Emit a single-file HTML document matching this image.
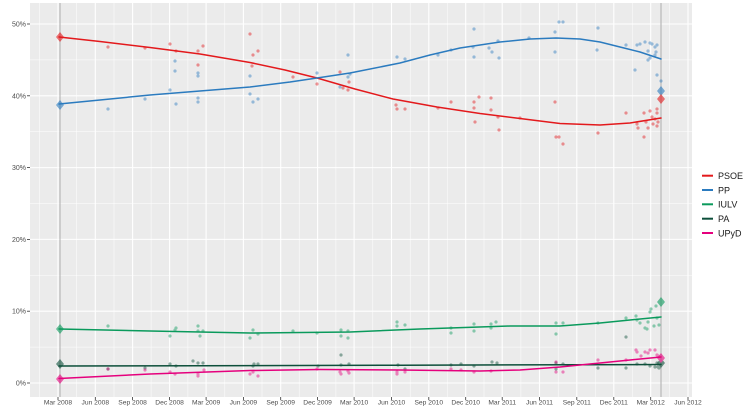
<!DOCTYPE html>
<html><head><meta charset="utf-8"><style>
html,body{margin:0;padding:0;background:#fff;}
svg{display:block;font-family:"Liberation Sans",Arial,sans-serif;}
</style></head><body>
<svg width="750" height="417" viewBox="0 0 750 417" xmlns="http://www.w3.org/2000/svg">
<rect x="0" y="0" width="750" height="417" fill="#ffffff"/>
<rect x="30" y="3" width="662" height="394" fill="#ebebeb"/>
<g stroke="#ffffff" stroke-width="0.5">
<line x1="30" x2="692" y1="347.1" y2="347.1"/><line x1="30" x2="692" y1="275.3" y2="275.3"/><line x1="30" x2="692" y1="203.5" y2="203.5"/><line x1="30" x2="692" y1="131.7" y2="131.7"/><line x1="30" x2="692" y1="59.9" y2="59.9"/>
<line x1="39.5" x2="39.5" y1="3" y2="397"/><line x1="76.7" x2="76.7" y1="3" y2="397"/><line x1="114" x2="114" y1="3" y2="397"/><line x1="151.1" x2="151.1" y1="3" y2="397"/><line x1="187.9" x2="187.9" y1="3" y2="397"/><line x1="224.8" x2="224.8" y1="3" y2="397"/><line x1="262" x2="262" y1="3" y2="397"/><line x1="299.2" x2="299.2" y1="3" y2="397"/><line x1="335.9" x2="335.9" y1="3" y2="397"/><line x1="372.8" x2="372.8" y1="3" y2="397"/><line x1="410.2" x2="410.2" y1="3" y2="397"/><line x1="447.3" x2="447.3" y1="3" y2="397"/><line x1="484" x2="484" y1="3" y2="397"/><line x1="520.9" x2="520.9" y1="3" y2="397"/><line x1="558.2" x2="558.2" y1="3" y2="397"/><line x1="595.3" x2="595.3" y1="3" y2="397"/><line x1="632.3" x2="632.3" y1="3" y2="397"/><line x1="669.4" x2="669.4" y1="3" y2="397"/>
</g>
<g stroke="#ffffff" stroke-width="1.07">
<line x1="30" x2="692" y1="383" y2="383"/><line x1="30" x2="692" y1="311.2" y2="311.2"/><line x1="30" x2="692" y1="239.4" y2="239.4"/><line x1="30" x2="692" y1="167.6" y2="167.6"/><line x1="30" x2="692" y1="95.8" y2="95.8"/><line x1="30" x2="692" y1="24" y2="24"/>
<line x1="58" x2="58" y1="3" y2="397"/><line x1="95.3" x2="95.3" y1="3" y2="397"/><line x1="132.6" x2="132.6" y1="3" y2="397"/><line x1="169.6" x2="169.6" y1="3" y2="397"/><line x1="206.1" x2="206.1" y1="3" y2="397"/><line x1="243.4" x2="243.4" y1="3" y2="397"/><line x1="280.7" x2="280.7" y1="3" y2="397"/><line x1="317.6" x2="317.6" y1="3" y2="397"/><line x1="354.1" x2="354.1" y1="3" y2="397"/><line x1="391.5" x2="391.5" y1="3" y2="397"/><line x1="428.8" x2="428.8" y1="3" y2="397"/><line x1="465.7" x2="465.7" y1="3" y2="397"/><line x1="502.2" x2="502.2" y1="3" y2="397"/><line x1="539.5" x2="539.5" y1="3" y2="397"/><line x1="576.8" x2="576.8" y1="3" y2="397"/><line x1="613.8" x2="613.8" y1="3" y2="397"/><line x1="650.7" x2="650.7" y1="3" y2="397"/><line x1="688" x2="688" y1="3" y2="397"/>
</g>
<!-- election lines -->
<line x1="60" x2="60" y1="3" y2="397" stroke="#b8b8b8" stroke-width="1.2"/>
<line x1="661" x2="661" y1="3" y2="397" stroke="#b8b8b8" stroke-width="1.2"/>

<!-- points PSOE -->
<g fill="#e3191c" opacity="0.45">
<circle cx="108" cy="47" r="1.6"/><circle cx="145" cy="48" r="1.6"/><circle cx="170" cy="44" r="1.6"/><circle cx="176" cy="51" r="1.6"/><circle cx="198" cy="51" r="1.6"/><circle cx="198" cy="65" r="1.6"/><circle cx="203" cy="46" r="1.6"/><circle cx="250" cy="34" r="1.6"/><circle cx="253" cy="55" r="1.6"/><circle cx="258" cy="51" r="1.6"/><circle cx="252" cy="66" r="1.6"/><circle cx="293" cy="77" r="1.6"/><circle cx="317" cy="84" r="1.6"/><circle cx="340" cy="72" r="1.6"/><circle cx="343" cy="88" r="1.6"/><circle cx="348" cy="90" r="1.6"/><circle cx="349" cy="82" r="1.6"/><circle cx="396" cy="105" r="1.6"/><circle cx="397" cy="109" r="1.6"/><circle cx="405" cy="109" r="1.6"/><circle cx="438" cy="108" r="1.6"/><circle cx="451" cy="102" r="1.6"/><circle cx="474" cy="102" r="1.6"/><circle cx="475" cy="122" r="1.6"/><circle cx="479" cy="97" r="1.6"/><circle cx="474" cy="108" r="1.6"/><circle cx="498" cy="117" r="1.6"/><circle cx="499" cy="130" r="1.6"/><circle cx="491" cy="98" r="1.6"/><circle cx="491" cy="110" r="1.6"/><circle cx="520" cy="118" r="1.6"/><circle cx="555" cy="102" r="1.6"/><circle cx="556" cy="137" r="1.6"/><circle cx="559" cy="137" r="1.6"/><circle cx="563" cy="144" r="1.6"/><circle cx="598" cy="133" r="1.6"/><circle cx="626" cy="113" r="1.6"/><circle cx="644" cy="113" r="1.6"/><circle cx="650" cy="111" r="1.6"/><circle cx="652" cy="117" r="1.6"/><circle cx="655" cy="119" r="1.6"/><circle cx="657" cy="113" r="1.6"/><circle cx="646" cy="122" r="1.6"/><circle cx="648" cy="128" r="1.6"/><circle cx="637" cy="124" r="1.6"/><circle cx="638" cy="128" r="1.6"/><circle cx="644" cy="137" r="1.6"/><circle cx="657" cy="126" r="1.6"/><circle cx="658" cy="122" r="1.6"/><circle cx="657" cy="109" r="1.6"/><circle cx="653" cy="124" r="1.6"/>
</g>
<!-- points PP -->
<g fill="#2b7bbf" opacity="0.45">
<circle cx="108" cy="109" r="1.6"/><circle cx="145" cy="99" r="1.6"/><circle cx="170" cy="90" r="1.6"/><circle cx="176" cy="104" r="1.6"/><circle cx="198" cy="98" r="1.6"/><circle cx="198" cy="102" r="1.6"/><circle cx="198" cy="73" r="1.6"/><circle cx="198" cy="76" r="1.6"/><circle cx="175" cy="61" r="1.6"/><circle cx="175" cy="71" r="1.6"/><circle cx="250" cy="76" r="1.6"/><circle cx="250" cy="94" r="1.6"/><circle cx="253" cy="102" r="1.6"/><circle cx="258" cy="99" r="1.6"/><circle cx="317" cy="73" r="1.6"/><circle cx="348" cy="55" r="1.6"/><circle cx="348" cy="77" r="1.6"/><circle cx="340" cy="87" r="1.6"/><circle cx="350" cy="74" r="1.6"/><circle cx="397" cy="57" r="1.6"/><circle cx="405" cy="59" r="1.6"/><circle cx="438" cy="55" r="1.6"/><circle cx="451" cy="50" r="1.6"/><circle cx="473" cy="47" r="1.6"/><circle cx="474" cy="57" r="1.6"/><circle cx="474" cy="29" r="1.6"/><circle cx="489" cy="48" r="1.6"/><circle cx="492" cy="52" r="1.6"/><circle cx="498" cy="41" r="1.6"/><circle cx="499" cy="58" r="1.6"/><circle cx="529" cy="38" r="1.6"/><circle cx="555" cy="32" r="1.6"/><circle cx="559" cy="22" r="1.6"/><circle cx="563" cy="22" r="1.6"/><circle cx="555" cy="52" r="1.6"/><circle cx="598" cy="28" r="1.6"/><circle cx="597" cy="50" r="1.6"/><circle cx="626" cy="45" r="1.6"/><circle cx="637" cy="45" r="1.6"/><circle cx="640" cy="44" r="1.6"/><circle cx="645" cy="42" r="1.6"/><circle cx="648" cy="51" r="1.6"/><circle cx="650" cy="43" r="1.6"/><circle cx="652" cy="44" r="1.6"/><circle cx="655" cy="47" r="1.6"/><circle cx="657" cy="45" r="1.6"/><circle cx="656" cy="52" r="1.6"/><circle cx="650" cy="58" r="1.6"/><circle cx="648" cy="60" r="1.6"/><circle cx="655" cy="55" r="1.6"/><circle cx="635" cy="70" r="1.6"/><circle cx="657" cy="75" r="1.6"/><circle cx="661" cy="81" r="1.6"/>
</g>
<!-- points IULV -->
<g fill="#0a9a5c" opacity="0.45">
<circle cx="108" cy="326" r="1.6"/><circle cx="170" cy="336" r="1.6"/><circle cx="175" cy="330" r="1.6"/><circle cx="176" cy="328" r="1.6"/><circle cx="198" cy="326" r="1.6"/><circle cx="198" cy="331" r="1.6"/><circle cx="200" cy="336" r="1.6"/><circle cx="203" cy="331" r="1.6"/><circle cx="250" cy="338" r="1.6"/><circle cx="253" cy="330" r="1.6"/><circle cx="258" cy="334" r="1.6"/><circle cx="293" cy="331" r="1.6"/><circle cx="317" cy="333" r="1.6"/><circle cx="341" cy="330" r="1.6"/><circle cx="341" cy="336" r="1.6"/><circle cx="348" cy="338" r="1.6"/><circle cx="348" cy="331" r="1.6"/><circle cx="397" cy="326" r="1.6"/><circle cx="397" cy="322" r="1.6"/><circle cx="405" cy="325" r="1.6"/><circle cx="451" cy="328" r="1.6"/><circle cx="451" cy="333" r="1.6"/><circle cx="474" cy="324" r="1.6"/><circle cx="474" cy="331" r="1.6"/><circle cx="491" cy="324" r="1.6"/><circle cx="491" cy="328" r="1.6"/><circle cx="496" cy="322" r="1.6"/><circle cx="556" cy="323" r="1.6"/><circle cx="563" cy="323" r="1.6"/><circle cx="556" cy="334" r="1.6"/><circle cx="598" cy="323" r="1.6"/><circle cx="626" cy="318" r="1.6"/><circle cx="637" cy="320" r="1.6"/><circle cx="645" cy="328" r="1.6"/><circle cx="647" cy="329" r="1.6"/><circle cx="648" cy="322" r="1.6"/><circle cx="650" cy="312" r="1.6"/><circle cx="651" cy="309" r="1.6"/><circle cx="656" cy="306" r="1.6"/><circle cx="657" cy="318" r="1.6"/><circle cx="659" cy="325" r="1.6"/><circle cx="654" cy="326" r="1.6"/><circle cx="640" cy="323" r="1.6"/><circle cx="636" cy="316" r="1.6"/>
</g>
<!-- points PA -->
<g fill="#0d4f3a" opacity="0.45">
<circle cx="108" cy="369" r="1.6"/><circle cx="145" cy="368" r="1.6"/><circle cx="170" cy="364" r="1.6"/><circle cx="176" cy="366" r="1.6"/><circle cx="193" cy="361" r="1.6"/><circle cx="198" cy="363" r="1.6"/><circle cx="203" cy="363" r="1.6"/><circle cx="253" cy="366" r="1.6"/><circle cx="254" cy="364" r="1.6"/><circle cx="258" cy="364" r="1.6"/><circle cx="318" cy="366" r="1.6"/><circle cx="341" cy="365" r="1.6"/><circle cx="341" cy="355" r="1.6"/><circle cx="349" cy="364" r="1.6"/><circle cx="398" cy="365" r="1.6"/><circle cx="405" cy="369" r="1.6"/><circle cx="451" cy="365" r="1.6"/><circle cx="461" cy="364" r="1.6"/><circle cx="474" cy="366" r="1.6"/><circle cx="492" cy="362" r="1.6"/><circle cx="497" cy="363" r="1.6"/><circle cx="556" cy="363" r="1.6"/><circle cx="556" cy="369" r="1.6"/><circle cx="563" cy="364" r="1.6"/><circle cx="598" cy="368" r="1.6"/><circle cx="626" cy="368" r="1.6"/><circle cx="626" cy="337" r="1.6"/><circle cx="637" cy="364" r="1.6"/><circle cx="645" cy="364" r="1.6"/><circle cx="650" cy="366" r="1.6"/><circle cx="655" cy="367" r="1.6"/><circle cx="657" cy="363" r="1.6"/><circle cx="658" cy="367" r="1.6"/><circle cx="659" cy="368" r="1.6"/>
</g>
<!-- points UPyD -->
<g fill="#e5007d" opacity="0.45">
<circle cx="108" cy="369" r="1.6"/><circle cx="145" cy="370" r="1.6"/><circle cx="170" cy="372" r="1.6"/><circle cx="175" cy="374" r="1.6"/><circle cx="198" cy="374" r="1.6"/><circle cx="198" cy="376" r="1.6"/><circle cx="204" cy="370" r="1.6"/><circle cx="250" cy="374" r="1.6"/><circle cx="253" cy="372" r="1.6"/><circle cx="258" cy="376" r="1.6"/><circle cx="317" cy="369" r="1.6"/><circle cx="340" cy="372" r="1.6"/><circle cx="341" cy="374" r="1.6"/><circle cx="348" cy="371" r="1.6"/><circle cx="349" cy="373" r="1.6"/><circle cx="397" cy="372" r="1.6"/><circle cx="397" cy="374" r="1.6"/><circle cx="405" cy="372" r="1.6"/><circle cx="451" cy="369" r="1.6"/><circle cx="461" cy="370" r="1.6"/><circle cx="474" cy="372" r="1.6"/><circle cx="491" cy="371" r="1.6"/><circle cx="556" cy="362" r="1.6"/><circle cx="556" cy="372" r="1.6"/><circle cx="563" cy="372" r="1.6"/><circle cx="598" cy="360" r="1.6"/><circle cx="626" cy="360" r="1.6"/><circle cx="636" cy="350" r="1.6"/><circle cx="637" cy="352" r="1.6"/><circle cx="645" cy="352" r="1.6"/><circle cx="648" cy="353" r="1.6"/><circle cx="650" cy="350" r="1.6"/><circle cx="655" cy="350" r="1.6"/><circle cx="657" cy="355" r="1.6"/><circle cx="658" cy="356" r="1.6"/><circle cx="641" cy="356" r="1.6"/>
</g>

<!-- diamonds -->
<g opacity="0.6">
<polygon points="60,32 64,37 60,42 56,37" fill="#e3191c"/>
<polygon points="60,100 64,105 60,110 56,105" fill="#2b7bbf"/>
<polygon points="60,324 64,329 60,334 56,329" fill="#0a9a5c"/>
<polygon points="60,359 64,364 60,369 56,364" fill="#0d4f3a"/>
<polygon points="60,374 64,379 60,384 56,379" fill="#e5007d"/>
<polygon points="661,86 665,91 661,96 657,91" fill="#2b7bbf"/>
<polygon points="661,94 665,99 661,104 657,99" fill="#e3191c"/>
<polygon points="661,297 665,302 661,307 657,302" fill="#0a9a5c"/>
<polygon points="661,358 665,363 661,368 657,363" fill="#0d4f3a"/>
<polygon points="661,353 665,358 661,363 657,358" fill="#e5007d"/>
</g>

<!-- smooth lines -->
<g fill="none" stroke-width="1.5" stroke-linejoin="round" stroke-linecap="round">
<polyline stroke="#e3191c" points="59,37 100,41.5 150,47.5 200,54 250,62.5 285,70 317,78 355,89 393,99 437,107 480,113.5 520,118.5 560,123.5 600,125 630,123 661,118"/>
<polyline stroke="#2b7bbf" points="59,104 100,100 150,95 200,91 250,87 290,82 317,78 350,73 400,63 430,55 460,48 500,42 530,39 556,38 580,39 600,42 620,47 640,52 661,59"/>
<polyline stroke="#0a9a5c" points="59,329 150,331 250,333 350,332 420,329 510,326 560,326 600,323 630,320 661,317"/>
<polyline stroke="#0d4f3a" points="59,366 200,365.8 400,365.2 661,364.5"/>
<polyline stroke="#e5007d" points="59,378.5 150,374 250,370.5 320,369.5 400,370 480,371 520,370 560,367 600,363 630,360 661,357"/>
</g>

<!-- y axis -->
<g stroke="#333" stroke-width="0.8">
<line x1="27" x2="30" y1="383" y2="383"/><line x1="27" x2="30" y1="311.2" y2="311.2"/><line x1="27" x2="30" y1="239.4" y2="239.4"/><line x1="27" x2="30" y1="167.6" y2="167.6"/><line x1="27" x2="30" y1="95.8" y2="95.8"/><line x1="27" x2="30" y1="24" y2="24"/>
</g>
<g font-size="7" fill="#4d4d4d" text-anchor="end">
<text x="26" y="385.5">0%</text><text x="26" y="313.7">10%</text><text x="26" y="241.9">20%</text><text x="26" y="170.1">30%</text><text x="26" y="98.3">40%</text><text x="26" y="26.5">50%</text>
</g>
<!-- x axis -->
<g stroke="#333" stroke-width="0.8">
<line x1="58" x2="58" y1="397" y2="400"/><line x1="95.3" x2="95.3" y1="397" y2="400"/><line x1="132.6" x2="132.6" y1="397" y2="400"/><line x1="169.6" x2="169.6" y1="397" y2="400"/><line x1="206.1" x2="206.1" y1="397" y2="400"/><line x1="243.4" x2="243.4" y1="397" y2="400"/><line x1="280.7" x2="280.7" y1="397" y2="400"/><line x1="317.6" x2="317.6" y1="397" y2="400"/><line x1="354.1" x2="354.1" y1="397" y2="400"/><line x1="391.5" x2="391.5" y1="397" y2="400"/><line x1="428.8" x2="428.8" y1="397" y2="400"/><line x1="465.7" x2="465.7" y1="397" y2="400"/><line x1="502.2" x2="502.2" y1="397" y2="400"/><line x1="539.5" x2="539.5" y1="397" y2="400"/><line x1="576.8" x2="576.8" y1="397" y2="400"/><line x1="613.8" x2="613.8" y1="397" y2="400"/><line x1="650.7" x2="650.7" y1="397" y2="400"/><line x1="688" x2="688" y1="397" y2="400"/>
</g>
<g font-size="6.7" fill="#4d4d4d" text-anchor="middle">
<text x="58" y="404.5">Mar 2008</text><text x="95.3" y="404.5">Jun 2008</text><text x="132.6" y="404.5">Sep 2008</text><text x="169.6" y="404.5">Dec 2008</text><text x="206.1" y="404.5">Mar 2009</text><text x="243.4" y="404.5">Jun 2009</text><text x="280.7" y="404.5">Sep 2009</text><text x="317.6" y="404.5">Dec 2009</text><text x="354.1" y="404.5">Mar 2010</text><text x="391.5" y="404.5">Jun 2010</text><text x="428.8" y="404.5">Sep 2010</text><text x="465.7" y="404.5">Dec 2010</text><text x="502.2" y="404.5">Mar 2011</text><text x="539.5" y="404.5">Jun 2011</text><text x="576.8" y="404.5">Sep 2011</text><text x="613.8" y="404.5">Dec 2011</text><text x="650.7" y="404.5">Mar 2012</text><text x="688" y="404.5">Jun 2012</text>
</g>

<!-- legend -->
<g stroke-width="2">
<line x1="702" x2="713" y1="175.7" y2="175.7" stroke="#e3191c"/>
<line x1="702" x2="713" y1="190" y2="190" stroke="#2b7bbf"/>
<line x1="702" x2="713" y1="204.3" y2="204.3" stroke="#0a9a5c"/>
<line x1="702" x2="713" y1="218.7" y2="218.7" stroke="#0d4f3a"/>
<line x1="702" x2="713" y1="233" y2="233" stroke="#e5007d"/>
</g>
<g font-size="9" fill="#1a1a1a">
<text x="718" y="179">PSOE</text>
<text x="718" y="193.3">PP</text>
<text x="718" y="207.6">IULV</text>
<text x="718" y="222">PA</text>
<text x="718" y="236.3">UPyD</text>
</g>
</svg>
</body></html>
